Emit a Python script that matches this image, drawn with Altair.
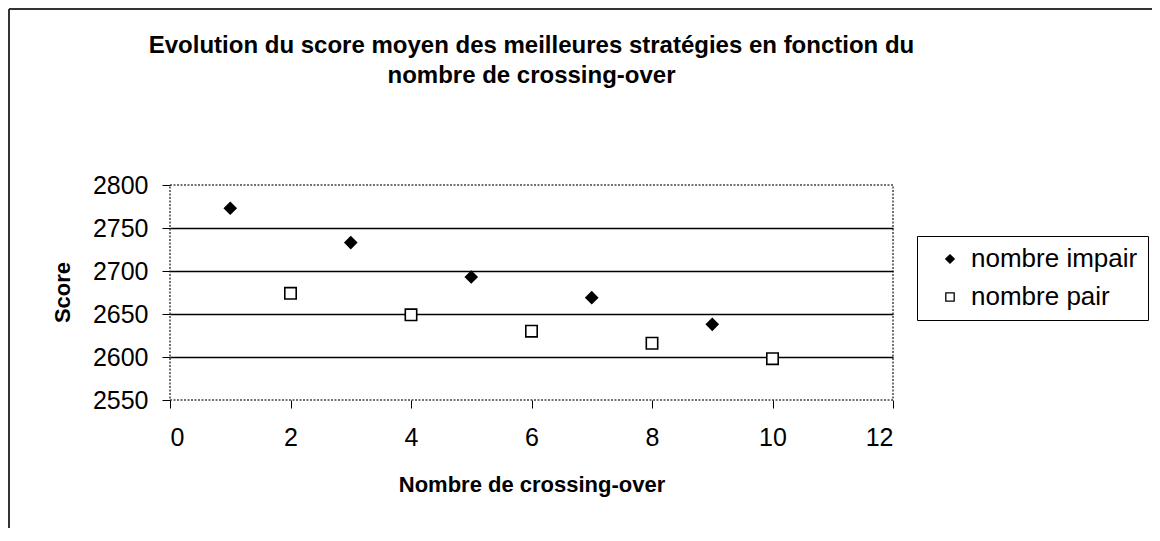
import altair as alt
import pandas as pd

odd_x = [1, 3, 5, 7, 9]
odd_y = [2773, 2733, 2693, 2669, 2638]
even_x = [2, 4, 6, 8, 10]
even_y = [2674, 2649, 2630, 2616, 2598]
series_names = ["nombre impair", "nombre pair"]
title_lines = ["Evolution du score moyen des meilleures stratégies en fonction du",
               "nombre de crossing-over"]

rows = [{"n": x, "score": y, "serie": series_names[0]} for x, y in zip(odd_x, odd_y)]
rows += [{"n": x, "score": y, "serie": series_names[1]} for x, y in zip(even_x, even_y)]
df = pd.DataFrame(rows)

FONT = "Liberation Sans"
W, H = 723, 215
PL, PT = 162, 177

leg = alt.Legend(title=None, orient="none", legendX=747, legendY=51,
                 strokeColor="black", padding=10, symbolSize=70,
                 symbolStrokeWidth=1.3, rowPadding=12, labelOffset=8, symbolOffset=10,
                 labelLimit=400)

points = alt.Chart(df).mark_point(size=130, strokeWidth=1.6, opacity=1).encode(
    x=alt.X("n:Q", scale=alt.Scale(domain=[0, 12], nice=False),
            axis=alt.Axis(values=[0, 2, 4, 6, 8, 10, 12], title="Nombre de crossing-over",
                          grid=False, domain=False, ticks=True, tickSize=8, tickColor="black",
                          labelPadding=17, titlePadding=24)),
    y=alt.Y("score:Q", scale=alt.Scale(domain=[2550, 2800], nice=False, zero=False),
            axis=alt.Axis(values=[2550, 2600, 2650, 2700, 2750, 2800], title="Score",
                          format="d", grid=True,
                          gridColor={"condition": {"test": "datum.value == 2550 || datum.value == 2800",
                                                   "value": "transparent"}, "value": "black"},
                          gridWidth=1.5, domain=False, tickSize=8, tickColor="black",
                          labelPadding=14, titleX=-108, titleY=107, titleAngle=-90,
                          titleBaseline="middle", titleAlign="center")),
    shape=alt.Shape("serie:N", scale=alt.Scale(domain=series_names, range=["diamond", "square"]),
                    legend=leg),
    fill=alt.Fill("serie:N", scale=alt.Scale(domain=series_names, range=["black", "white"]),
                  legend=leg),
    stroke=alt.Stroke("serie:N", scale=alt.Scale(domain=series_names, range=["black", "black"]),
                      legend=leg),
)

title_df = pd.DataFrame({"t": ["\n".join(title_lines)]})
title = alt.Chart(title_df).mark_text(
    font=FONT, fontSize=24, fontWeight="bold", color="black", align="center",
    baseline="alphabetic", lineBreak="\n", lineHeight=30,
).encode(text="t:N", x=alt.value(W / 2), y=alt.value(-132))

frame_top = alt.Chart(df).mark_rule(color="#333", strokeWidth=2).encode(
    x=alt.value(-161), x2=alt.value(1200), y=alt.value(-176))
frame_left = alt.Chart(df).mark_rule(color="#333", strokeWidth=2).encode(
    x=alt.value(-161), y=alt.value(-176), y2=alt.value(400))

chart = alt.layer(frame_top, frame_left, title, points).properties(
    width=W, height=H,
    autosize=alt.AutoSizeParams(type="none"),
    padding={"left": PL, "top": PT, "right": 1144 - PL - W, "bottom": 520 - PT - H},
).configure_view(
    stroke="#444", strokeDash=[2, 1.5], strokeWidth=1.5
).configure_axis(
    labelFont=FONT, labelFontSize=25, labelColor="black",
    titleFont=FONT, titleFontSize=22, titleFontWeight="bold", titleColor="black",
).configure_legend(
    labelFont=FONT, labelFontSize=26, labelColor="black"
)

chart.save("out.html", embed_options={"renderer": "svg", "actions": False})
